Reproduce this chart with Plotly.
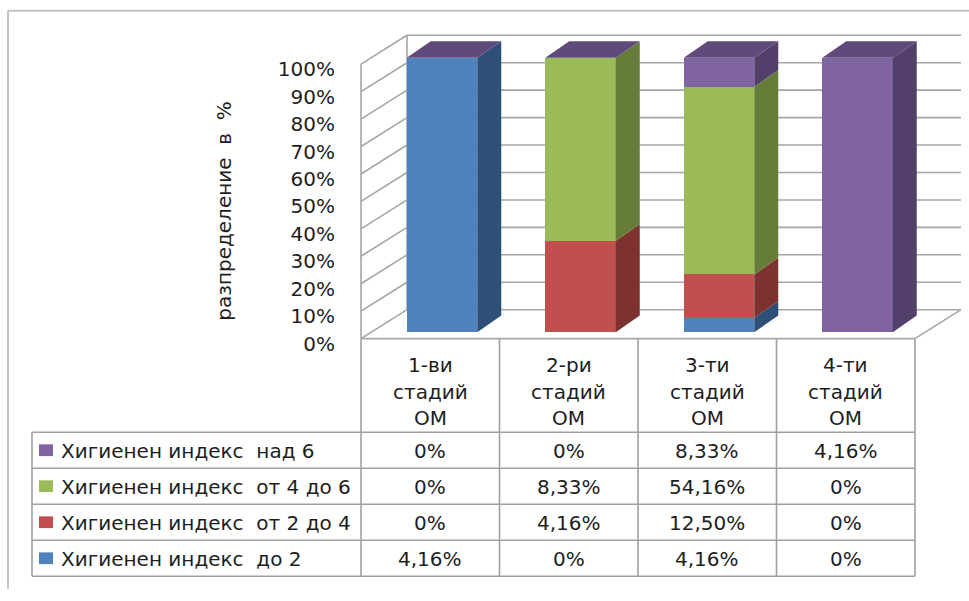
import numpy as np
import plotly.graph_objects as go

# ---------------- data ----------------
categories = ["1-ви стадий ОМ", "2-ри стадий ОМ", "3-ти стадий ОМ", "4-ти стадий ОМ"]
series_names = [
    "Хигиенен индекс\u00a0 до 2",
    "Хигиенен индекс\u00a0 от 2 до 4",
    "Хигиенен индекс\u00a0 от 4 до 6",
    "Хигиенен индекс\u00a0 над 6",
]
hi_upto_2 = [4.16, 0, 4.16, 0]
hi_2_to_4 = [0, 4.16, 12.50, 0]
hi_4_to_6 = [0, 8.33, 54.16, 0]
hi_over_6 = [0, 0, 8.33, 4.16]
y_ticks = [0, 10, 20, 30, 40, 50, 60, 70, 80, 90, 100]
y_tick_labels = [f"{t}%" for t in y_ticks]
y_title = "разпределение\u00a0 в\u00a0 %"

# ---------------- styles ----------------
front_colors = ["#4F81BD", "#C0504D", "#9BBB59", "#8064A2"]
side_colors = ["#2E5078", "#7E3230", "#667D39", "#52406A"]
top_color = "#604A7B"
wall_color = "#A6A6A6"
grid_line = "#A0A0A0"
text_color = "#1E1E1E"
FONT = "DejaVu Sans"
FS = 20

W, H = 969, 601


def px(xp):
    return xp / W


def py(yp):
    return 1 - yp / H


# front plane geometry (pixels)
X0_PX = 361.0       # left edge of first category slot
SLOT_PX = 138.5     # width of a category slot
BASE_PX = 345.5     # 0% on the front plane
PCT_PX = 2.8        # pixels per percent
PLOT_L, PLOT_R, PLOT_T, PLOT_B = 340.0, 969.0, 20.0, 350.0

x_range = [(PLOT_L - X0_PX) / SLOT_PX - 0.5, (PLOT_R - X0_PX) / SLOT_PX - 0.5]
y_range = [(BASE_PX - PLOT_B) / PCT_PX, (BASE_PX - PLOT_T) / PCT_PX]

# depth offsets in axis units
WALL_DX, WALL_DY = 46 / SLOT_PX, 29.5 / PCT_PX      # floor / side wall depth
BAR_SHIFT_X, BAR_SHIFT_Y = 11.75 / SLOT_PX, 6.5 / PCT_PX  # bar front plane
DEPTH_DX, DEPTH_DY = 24 / SLOT_PX, 17 / PCT_PX      # bar depth
BAR_W = 70.5 / SLOT_PX

series = np.array([hi_upto_2, hi_2_to_4, hi_4_to_6, hi_over_6], dtype=float)
n_cat = len(categories)
idx = list(range(n_cat))
pct = series / series.sum(axis=0) * 100
cum = np.cumsum(pct, axis=0)

fig = go.Figure()

# front faces of the stacked columns (normalised to 100% by plotly)
for s, name in enumerate(series_names):
    fig.add_trace(go.Bar(
        x=idx, y=series[s], name=name, width=BAR_W,
        marker=dict(color=front_colors[s], line=dict(width=0)),
        xaxis="x2", yaxis="y2", hoverinfo="skip", showlegend=False,
    ))

# right-hand side faces of each segment
for s in range(len(series_names)):
    xs, ys = [], []
    for i in idx:
        if pct[s, i] <= 0:
            continue
        y1 = cum[s, i]
        y0 = y1 - pct[s, i]
        xr = i + BAR_W / 2
        xs += [xr, xr + DEPTH_DX, xr + DEPTH_DX, xr, xr, None]
        ys += [y0, y0 + DEPTH_DY, y1 + DEPTH_DY, y1, y0, None]
    fig.add_trace(go.Scatter(
        x=xs, y=ys, mode="lines", fill="toself", fillcolor=side_colors[s],
        line=dict(width=0), xaxis="x2", yaxis="y2",
        hoverinfo="skip", showlegend=False,
    ))

# top faces of the stacks
xs, ys = [], []
for i in idx:
    top = cum[-1, i]
    xl, xr = i - BAR_W / 2, i + BAR_W / 2
    xs += [xl, xl + DEPTH_DX, xr + DEPTH_DX, xr, xl, None]
    ys += [top, top + DEPTH_DY, top + DEPTH_DY, top, top, None]
fig.add_trace(go.Scatter(
    x=xs, y=ys, mode="lines", fill="toself", fillcolor=top_color,
    line=dict(width=0), xaxis="x2", yaxis="y2",
    hoverinfo="skip", showlegend=False,
))

shapes = []


def seg(x0, y0, x1, y1, color=wall_color, width=1.6, ref="data"):
    d = dict(type="line", x0=x0, y0=y0, x1=x1, y1=y1,
             line=dict(color=color, width=width), layer="below")
    if ref == "data":
        d.update(xref="x", yref="y")
    else:
        d.update(xref="paper", yref="paper")
    shapes.append(d)


x_first, x_last = -0.5, n_cat - 0.5
# side wall: front edge, slanted grid lines, back edge
seg(x_first, 0, x_first, 100)
seg(x_first + WALL_DX, WALL_DY, x_first + WALL_DX, 100 + WALL_DY)
for t in y_ticks:
    seg(x_first, t, x_first + WALL_DX, t + WALL_DY)
    # back wall grid lines
    seg(x_first + WALL_DX, t + WALL_DY, x_last + WALL_DX, t + WALL_DY)
# floor front and right edges
seg(x_first, 0, x_last, 0)
seg(x_last, 0, x_last + WALL_DX, WALL_DY)

# ---------------- data table ----------------
TABLE_L = 32.0
HEADER_BOTTOM = 441.0
TABLE_B = 588.0
n_rows = len(series_names)
row_h = (TABLE_B - HEADER_BOTTOM) / n_rows
col_edges = [X0_PX + k * SLOT_PX for k in range(n_cat + 1)]

for xe in col_edges:
    seg(px(xe), py(BASE_PX), px(xe), py(TABLE_B), color=grid_line, ref="paper")
seg(px(TABLE_L), py(HEADER_BOTTOM), px(TABLE_L), py(TABLE_B), color=grid_line, ref="paper")
for r in range(n_rows + 1):
    yy = HEADER_BOTTOM + r * row_h
    seg(px(TABLE_L), py(yy), px(col_edges[-1]), py(yy), color=grid_line, ref="paper")

annotations = []
font = dict(family=FONT, size=FS, color=text_color)

# header: category names, one word per line
HEADER_LINE0, HEADER_STEP = 372.0, 27.5
for i, cat in enumerate(categories):
    xc = X0_PX + (i + 0.5) * SLOT_PX
    for k, word in enumerate(cat.split(" ")):
        annotations.append(dict(
            x=px(xc), y=py(HEADER_LINE0 + k * HEADER_STEP), xref="paper", yref="paper",
            text=word, showarrow=False, xanchor="center", yanchor="middle", font=font,
        ))


def fmt(v):
    return "0%" if v == 0 else f"{v:.2f}".replace(".", ",") + "%"


# body rows: top row is the top series of the stack
for r in range(n_rows):
    s = n_rows - 1 - r
    yc = HEADER_BOTTOM + (r + 0.5) * row_h
    shapes.append(dict(
        type="rect", xref="paper", yref="paper",
        x0=px(39), x1=px(53), y0=py(yc - 6), y1=py(yc + 6),
        fillcolor=front_colors[s], line=dict(width=0), layer="above",
    ))
    annotations.append(dict(
        x=px(59), y=py(yc + 1), xref="paper", yref="paper", text=series_names[s],
        showarrow=False, xanchor="left", yanchor="middle", font=font,
    ))
    for i in idx:
        xc = X0_PX + (i + 0.5) * SLOT_PX
        annotations.append(dict(
            x=px(xc), y=py(yc + 1), xref="paper", yref="paper", text=fmt(series[s, i]),
            showarrow=False, xanchor="center", yanchor="middle", font=font,
        ))

# vertical axis title
annotations.append(dict(
    x=px(224), y=py(216), xref="paper", yref="paper", text=y_title, textangle=-90,
    showarrow=False, xanchor="center", yanchor="middle", font=font,
))

# outer frame of the chart area
seg(px(8), py(11), px(8), 0, color="#C4C4C4", width=2, ref="paper")
seg(px(8), py(11), 1, py(11), color="#C4C4C4", width=2, ref="paper")

x_dom = [px(PLOT_L), px(PLOT_R)]
y_dom = [py(PLOT_B), py(PLOT_T)]

fig.update_layout(
    width=W, height=H, margin=dict(l=0, r=0, t=0, b=0),
    paper_bgcolor="white", plot_bgcolor="rgba(0,0,0,0)",
    barmode="stack", barnorm="percent", showlegend=False,
    font=font,
    xaxis=dict(domain=x_dom, range=x_range, showgrid=False, zeroline=False,
               showticklabels=False, showline=False, fixedrange=True),
    yaxis=dict(domain=y_dom, range=y_range, showgrid=False, zeroline=False,
               showline=False, tickmode="array", tickvals=y_ticks,
               ticktext=y_tick_labels, ticks="", ticklabelstandoff=4,
               ticklabelshift=5, tickfont=font, fixedrange=True),
    xaxis2=dict(overlaying="x", anchor="y2", range=[r - BAR_SHIFT_X for r in x_range],
                visible=False, fixedrange=True),
    yaxis2=dict(overlaying="y", anchor="x2", range=[r - BAR_SHIFT_Y for r in y_range],
                visible=False, fixedrange=True),
    shapes=shapes, annotations=annotations,
)

fig.write_html("out.html")
